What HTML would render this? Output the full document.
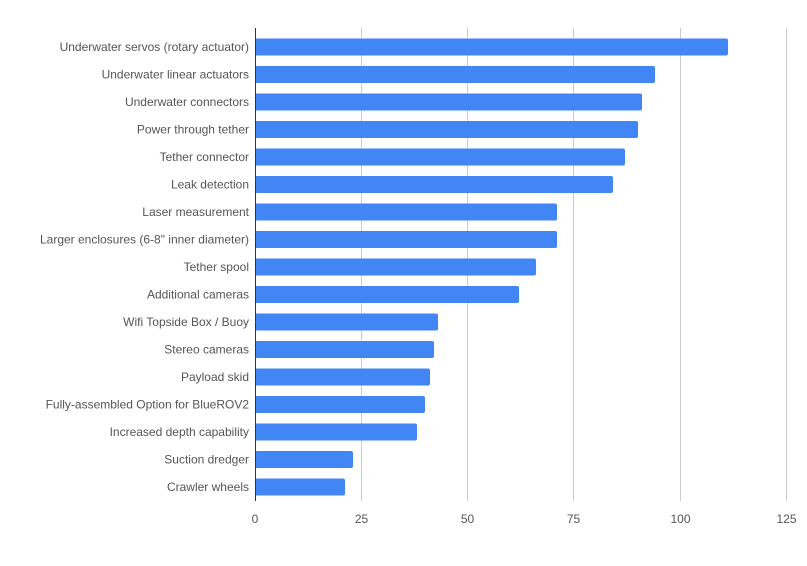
<!DOCTYPE html>
<html><head><style>
body{margin:0;background:#fff;}
svg text{font-family:"Liberation Sans",Arial,sans-serif;font-size:12px;fill:#555;}
</style></head><body>
<svg width="807" height="561" xmlns="http://www.w3.org/2000/svg">
<g stroke="#ccc" stroke-width="1">
<line x1="361.5" y1="28" x2="361.5" y2="501"/>
<line x1="467.5" y1="28" x2="467.5" y2="501"/>
<line x1="573.5" y1="28" x2="573.5" y2="501"/>
<line x1="680.5" y1="28" x2="680.5" y2="501"/>
<line x1="786.5" y1="28" x2="786.5" y2="501"/>
</g>
<g fill="#4285f4">
<rect x="255" y="38.5" width="473" height="17" rx="2"/>
<rect x="255" y="66" width="400" height="17" rx="2"/>
<rect x="255" y="93.5" width="387" height="17" rx="2"/>
<rect x="255" y="121" width="383" height="17" rx="2"/>
<rect x="255" y="148.5" width="370" height="17" rx="2"/>
<rect x="255" y="176" width="358" height="17" rx="2"/>
<rect x="255" y="203.5" width="302" height="17" rx="2"/>
<rect x="255" y="231" width="302" height="17" rx="2"/>
<rect x="255" y="258.5" width="281" height="17" rx="2"/>
<rect x="255" y="286" width="264" height="17" rx="2"/>
<rect x="255" y="313.5" width="183" height="17" rx="2"/>
<rect x="255" y="341" width="179" height="17" rx="2"/>
<rect x="255" y="368.5" width="175" height="17" rx="2"/>
<rect x="255" y="396" width="170" height="17" rx="2"/>
<rect x="255" y="423.5" width="162" height="17" rx="2"/>
<rect x="255" y="451" width="98" height="17" rx="2"/>
<rect x="255" y="478.5" width="90" height="17" rx="2"/>
</g>
<line x1="255.5" y1="28" x2="255.5" y2="501" stroke="#333" stroke-width="1"/>
<g text-anchor="end">
<text x="249" y="51">Underwater servos (rotary actuator)</text>
<text x="249" y="78.5">Underwater linear actuators</text>
<text x="249" y="106">Underwater connectors</text>
<text x="249" y="133.5">Power through tether</text>
<text x="249" y="161">Tether connector</text>
<text x="249" y="188.5">Leak detection</text>
<text x="249" y="216">Laser measurement</text>
<text x="249" y="243.5">Larger enclosures (6-8" inner diameter)</text>
<text x="249" y="271">Tether spool</text>
<text x="249" y="298.5">Additional cameras</text>
<text x="249" y="326">Wifi Topside Box / Buoy</text>
<text x="249" y="353.5">Stereo cameras</text>
<text x="249" y="381">Payload skid</text>
<text x="249" y="408.5">Fully-assembled Option for BlueROV2</text>
<text x="249" y="436">Increased depth capability</text>
<text x="249" y="463.5">Suction dredger</text>
<text x="249" y="491">Crawler wheels</text>
</g>
<g text-anchor="middle">
<text x="255" y="523">0</text>
<text x="361.5" y="523">25</text>
<text x="467.5" y="523">50</text>
<text x="573.5" y="523">75</text>
<text x="680.5" y="523">100</text>
<text x="786.5" y="523">125</text>
</g>
</svg>
</body></html>
